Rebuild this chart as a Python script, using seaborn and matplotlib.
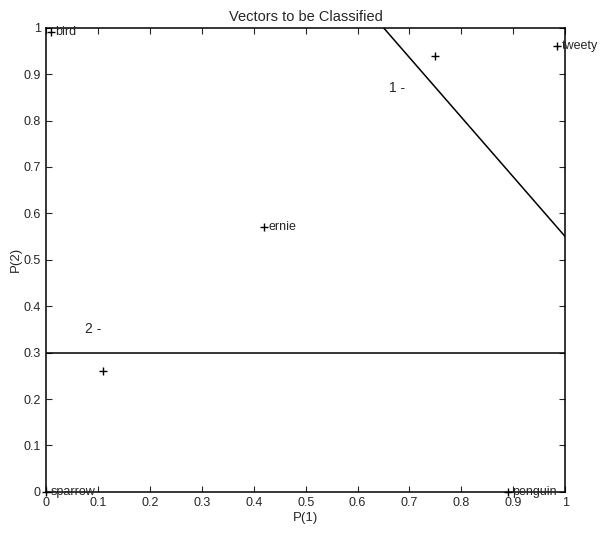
import numpy as np
import pandas as pd
import seaborn as sns
import matplotlib.pyplot as plt

sns.set_style('ticks')
plt.rcParams['font.family'] = ['Liberation Sans', 'DejaVu Sans']

# vectors to be classified
names = ['bird', 'tweety', '', 'ernie', '', 'sparrow', 'penguin']
p1 = [0.01, 0.985, 0.75, 0.42, 0.11, 0.0, 0.89]
p2 = [0.99, 0.96, 0.94, 0.57, 0.26, 0.0, 0.0]

# decision boundaries
line1_x = [0.65, 1.0]
line1_y = [1.0, 0.55]
line2_x = [0.0, 1.0]
line2_y = [0.3, 0.3]

ticks = np.round(np.arange(0, 1.01, 0.1), 1)
tick_labels = ['0', '0.1', '0.2', '0.3', '0.4', '0.5', '0.6', '0.7', '0.8', '0.9', '1']

df = pd.DataFrame({'P1': p1, 'P2': p2, 'name': names})

fig = plt.figure(figsize=(6, 5.34), dpi=100)
ax = fig.add_axes([0.077, 0.079, 0.865, 0.869])

sns.scatterplot(data=df, x='P1', y='P2', marker='+', color='black', s=35,
                linewidth=1.0, ax=ax, legend=False, clip_on=False)
for _, r in df.iterrows():
    if r['name']:
        ax.text(r['P1'] + 0.008, r['P2'], r['name'], fontsize=9,
                va='center', ha='left', clip_on=False)

sns.lineplot(x=line1_x, y=line1_y, color='black', linewidth=1.1, ax=ax)
sns.lineplot(x=line2_x, y=line2_y, color='black', linewidth=1.1, ax=ax)
ax.text(0.66, 0.87, '1 -', fontsize=10, ha='left', va='center')
ax.text(0.075, 0.35, '2 -', fontsize=10, ha='left', va='center')

ax.set_xlim(0, 1)
ax.set_ylim(0, 1)
ax.set_xticks(ticks)
ax.set_xticklabels(tick_labels)
ax.set_yticks(ticks)
ax.set_yticklabels(tick_labels)
ax.tick_params(direction='in', top=True, right=True, labelsize=9,
               length=4, width=0.8, pad=4)
for sp in ax.spines.values():
    sp.set_linewidth(1.1)
    sp.set_color('black')

ax.set_title('Vectors to be Classified', fontsize=10.5, pad=5)
ax.set_xlabel('P(1)', fontsize=9.5, labelpad=2)
ax.set_ylabel('P(2)', fontsize=9.5, labelpad=1)

fig.savefig('out.png', dpi=100)
